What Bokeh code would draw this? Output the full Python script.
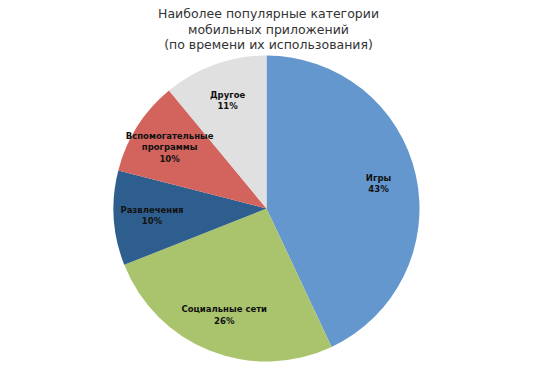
import math
from bokeh.plotting import figure
from bokeh.models import Range1d, ColumnDataSource
from bokeh.core.properties import value
from bokeh.embed import file_html
from bokeh.resources import INLINE

title_lines = ["Наиболее популярные категории", "мобильных приложений", "(по времени их использования)"]
categories = ["Игры", "Социальные сети", "Развлечения", "Вспомогательные\nпрограммы", "Другое"]
shares = [43, 26, 10, 10, 11]
colors = ["#6497CD", "#A9C46D", "#2E5E8E", "#D2645D", "#E0E0E0"]

R = 153
p = figure(width=550, height=367, output_backend="svg", toolbar_location=None,
           x_range=Range1d(-266, 284), y_range=Range1d(-159, 208),
           min_border=0, outline_line_color=None)
p.axis.visible = False
p.grid.visible = False
p.background_fill_color = "white"
p.border_fill_color = "white"

total = sum(shares)
starts, ends, lx, ly, texts = [], [], [], [], []
cum = 0
for c, s in zip(categories, shares):
    a0 = math.pi / 2 - 2 * math.pi * cum / total
    cum += s
    a1 = math.pi / 2 - 2 * math.pi * cum / total
    starts.append(a0)
    ends.append(a1)
    mid = (a0 + a1) / 2
    lx.append(0.75 * R * math.cos(mid))
    ly.append(0.75 * R * math.sin(mid))
    texts.append(f"{c}\n{s}%")

src = ColumnDataSource(dict(start=starts, end=ends, color=colors, lx=lx, ly=ly, text=texts))
p.wedge(x=0, y=0, radius=R, start_angle="start", end_angle="end", direction="clock",
        fill_color="color", line_color=None, source=src)
p.text(x="lx", y="ly", text="text", source=src, text_align="center", text_baseline="middle",
       text_font=value("DejaVu Sans"), text_font_size="8.5px", text_font_style="bold",
       text_color="#111111", text_line_height=1.15)

p.text(x=[2, 2, 2], y=[195, 179, 164], text=title_lines, text_align="center",
       text_baseline="middle", text_font=value("DejaVu Sans"), text_font_size="12.5px",
       text_color="#333333")

open("out.html", "w").write(file_html(p, INLINE))
